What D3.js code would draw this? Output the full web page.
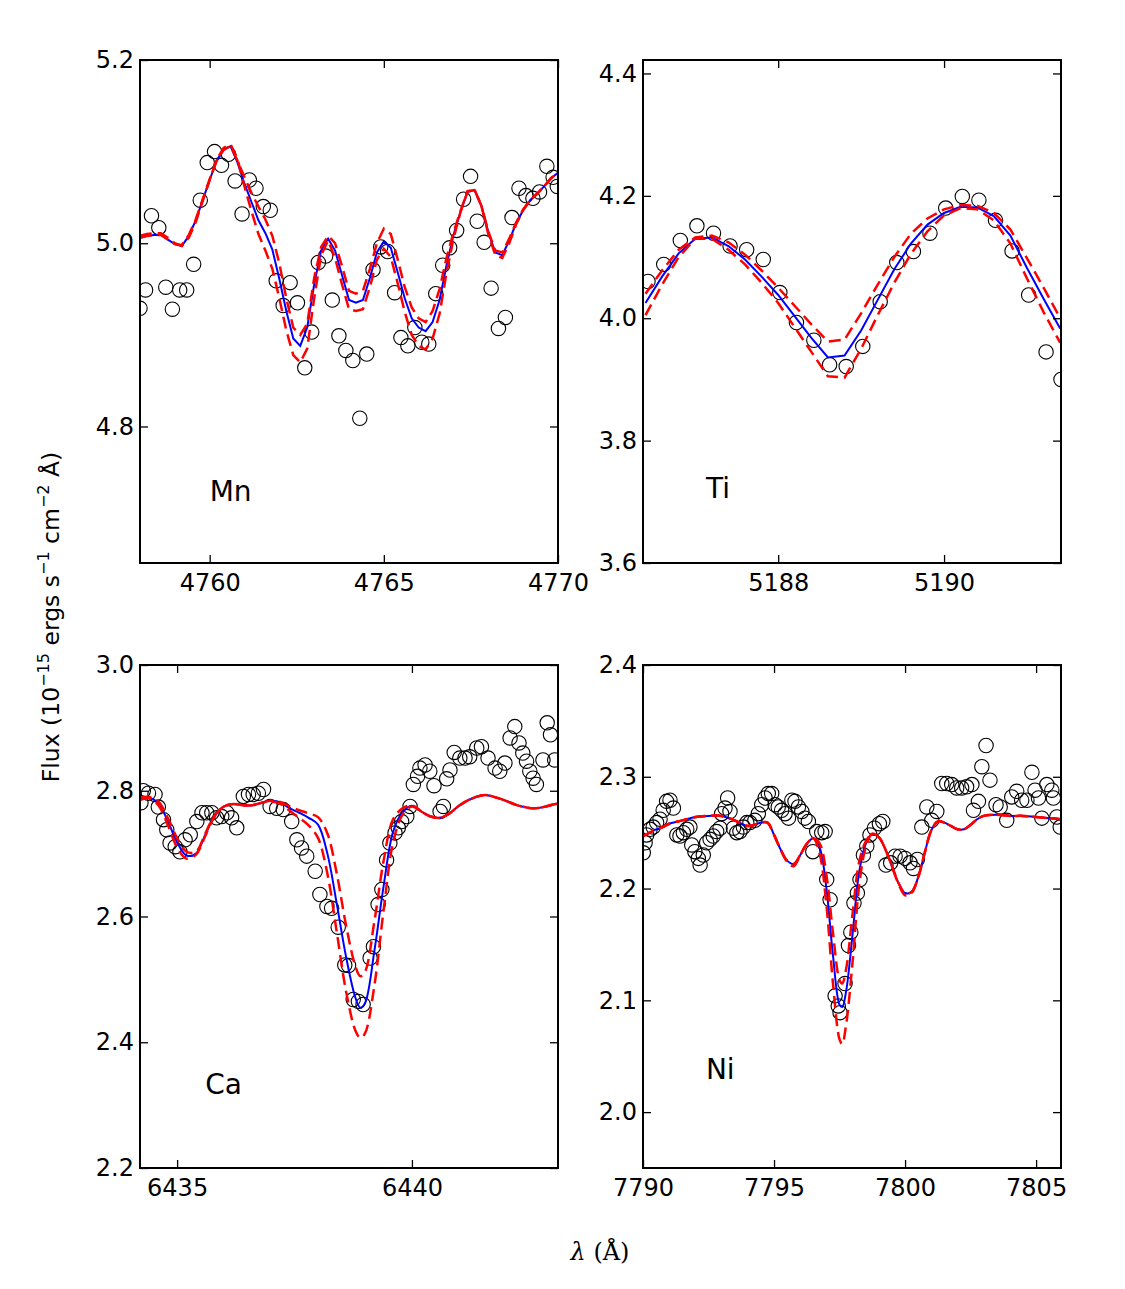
<!DOCTYPE html>
<html>
<head>
<meta charset="utf-8">
<script src="https://cdn.jsdelivr.net/npm/d3@7"></script>
<style>
  body { margin: 0; background: #fff; }
  text { font-family: "DejaVu Sans", sans-serif; }
</style>
</head>
<body>
<svg id="chart" width="1125" height="1289"></svg>
<script>
// ---- Mn 4758-4770 ----
const mnObsX = [4758.00,4758.16,4758.33,4758.54,4758.74,4758.93,4759.14,4759.34,4759.54,4759.73,4759.93,4760.14,4760.34,4760.54,4760.73,4760.93,4761.14,4761.33,4761.54,4761.74,4761.91,4762.11,4762.31,4762.52,4762.73,4762.93,4763.12,4763.33,4763.52,4763.71,4763.91,4764.11,4764.31,4764.51,4764.69,4764.91,4765.11,4765.31,4765.49,4765.69,4765.89,4766.09,4766.29,4766.49,4766.69,4766.89,4767.09,4767.29,4767.49,4767.68,4767.88,4768.08,4768.29,4768.49,4768.68,4768.88,4769.08,4769.28,4769.47,4769.68,4769.86,4769.98];
const mnObsY = [4.929,4.949,5.030,5.017,4.952,4.928,4.949,4.949,4.977,5.047,5.088,5.100,5.085,5.097,5.068,5.032,5.069,5.060,5.040,5.036,4.959,4.932,4.957,4.935,4.864,4.903,4.979,4.986,4.938,4.899,4.883,4.872,4.809,4.879,4.971,4.996,4.991,4.946,4.897,4.888,4.908,4.892,4.890,4.945,4.976,4.995,5.014,5.048,5.073,5.024,5.001,4.951,4.907,4.919,5.028,5.060,5.052,5.049,5.056,5.084,5.072,5.062];
const mnModX = [4758.0,4758.2,4758.4,4758.6,4758.8,4759.0,4759.2,4759.4,4759.6,4759.8,4760.0,4760.2,4760.4,4760.6,4760.8,4761.0,4761.2,4761.4,4761.6,4761.8,4762.0,4762.2,4762.4,4762.6,4762.8,4763.0,4763.2,4763.4,4763.6,4763.8,4764.0,4764.2,4764.4,4764.6,4764.8,4765.0,4765.2,4765.4,4765.6,4765.8,4766.0,4766.2,4766.4,4766.6,4766.8,4767.0,4767.2,4767.4,4767.6,4767.8,4768.0,4768.2,4768.4,4768.6,4768.8,4769.0,4769.2,4769.4,4769.6,4769.8,4770.0];
const mnBlue = [5.006,5.008,5.009,5.009,5.004,4.999,4.997,5.008,5.025,5.047,5.069,5.090,5.102,5.106,5.088,5.065,5.045,5.025,5.011,4.993,4.961,4.926,4.896,4.888,4.908,4.955,4.992,5.005,4.992,4.965,4.938,4.935,4.938,4.962,4.990,5.002,4.995,4.968,4.940,4.918,4.908,4.904,4.914,4.938,4.976,5.009,5.034,5.056,5.058,5.041,5.012,4.990,4.987,5.003,5.022,5.036,5.047,5.054,5.062,5.071,5.077];
const mnRedHi = [5.008,5.010,5.011,5.011,5.006,5.000,4.997,5.006,5.023,5.046,5.069,5.091,5.104,5.108,5.092,5.062,5.035,5.010,4.992,4.972,4.940,4.905,4.878,4.870,4.885,4.940,4.987,5.003,4.984,4.955,4.928,4.926,4.928,4.952,4.982,4.994,4.985,4.956,4.925,4.900,4.888,4.884,4.896,4.923,4.968,5.005,5.034,5.056,5.059,5.041,5.010,4.987,4.984,5.000,5.021,5.036,5.047,5.054,5.062,5.071,5.077];
const mnRedLo = [5.006,5.008,5.009,5.009,5.004,4.999,4.998,5.009,5.026,5.048,5.070,5.090,5.102,5.106,5.090,5.072,5.055,5.040,5.026,5.008,4.978,4.940,4.908,4.900,4.912,4.962,4.996,5.008,5.000,4.975,4.948,4.945,4.948,4.972,5.000,5.016,5.010,4.982,4.952,4.930,4.918,4.914,4.926,4.950,4.984,5.012,5.035,5.057,5.058,5.041,5.013,4.992,4.990,5.005,5.023,5.037,5.047,5.054,5.062,5.071,5.077];

// ---- Ti 5186.4-5191.4 ----
const tiObsX = [5186.43,5186.62,5186.82,5187.02,5187.22,5187.42,5187.62,5187.82,5188.02,5188.22,5188.43,5188.62,5188.82,5189.02,5189.23,5189.43,5189.63,5189.83,5190.02,5190.22,5190.42,5190.62,5190.82,5191.02,5191.23,5191.41];
const tiObsY = [4.060,4.088,4.127,4.151,4.139,4.118,4.112,4.096,4.042,3.993,3.964,3.924,3.921,3.954,4.027,4.091,4.109,4.139,4.180,4.199,4.193,4.160,4.110,4.038,3.945,3.900];
const tiModX = [5186.4,5186.6,5186.8,5187.0,5187.2,5187.4,5187.6,5187.8,5188.0,5188.2,5188.4,5188.6,5188.8,5189.0,5189.2,5189.4,5189.6,5189.8,5190.0,5190.2,5190.4,5190.6,5190.8,5191.0,5191.2,5191.4];
const tiBlue = [4.025,4.068,4.106,4.130,4.132,4.118,4.096,4.068,4.038,4.003,3.968,3.936,3.939,3.980,4.030,4.080,4.122,4.153,4.172,4.182,4.181,4.167,4.135,4.082,4.032,3.983];
const tiRedHi = [4.005,4.055,4.100,4.130,4.130,4.112,4.088,4.058,4.025,3.985,3.945,3.905,3.903,3.950,4.005,4.058,4.105,4.142,4.168,4.180,4.178,4.160,4.122,4.065,4.010,3.960];
const tiRedLo = [4.040,4.078,4.112,4.132,4.135,4.124,4.104,4.078,4.050,4.020,3.990,3.962,3.965,4.008,4.055,4.100,4.138,4.163,4.178,4.185,4.184,4.172,4.145,4.098,4.050,4.000];

// ---- Ca 6434.2-6443.1 ----
const caObsX = [6434.23,6434.28,6434.39,6434.53,6434.60,6434.71,6434.78,6434.85,6434.96,6435.06,6435.17,6435.28,6435.42,6435.53,6435.63,6435.74,6435.84,6435.95,6436.06,6436.16,6436.27,6436.41,6436.52,6436.62,6436.73,6436.84,6436.98,6437.12,6437.26,6437.44,6437.55,6437.65,6437.76,6437.94,6438.04,6438.19,6438.29,6438.43,6438.57,6438.65,6438.75,6438.86,6438.96,6439.11,6439.18,6439.28,6439.36,6439.46,6439.53,6439.64,6439.71,6439.78,6439.89,6439.96,6440.03,6440.12,6440.17,6440.28,6440.38,6440.47,6440.60,6440.67,6440.74,6440.81,6440.90,6441.02,6441.13,6441.23,6441.38,6441.48,6441.62,6441.77,6441.87,6441.98,6442.09,6442.19,6442.28,6442.36,6442.44,6442.51,6442.58,6442.65,6442.79,6442.88,6442.95,6443.04];
const caObsY = [2.781,2.800,2.796,2.794,2.774,2.754,2.738,2.717,2.711,2.703,2.722,2.730,2.751,2.765,2.765,2.765,2.757,2.759,2.765,2.757,2.741,2.791,2.794,2.794,2.796,2.802,2.775,2.772,2.770,2.751,2.722,2.709,2.696,2.672,2.635,2.616,2.613,2.583,2.523,2.522,2.468,2.465,2.460,2.534,2.552,2.619,2.643,2.690,2.717,2.733,2.741,2.751,2.759,2.775,2.810,2.823,2.836,2.841,2.831,2.808,2.767,2.775,2.819,2.833,2.861,2.852,2.852,2.854,2.868,2.870,2.852,2.836,2.831,2.844,2.884,2.902,2.876,2.860,2.847,2.831,2.820,2.810,2.849,2.908,2.889,2.849];
const caModX = [6434.2,6434.4,6434.6,6434.8,6435.0,6435.2,6435.4,6435.6,6435.8,6436.0,6436.2,6436.4,6436.6,6436.8,6437.0,6437.2,6437.4,6437.6,6437.8,6438.0,6438.2,6438.4,6438.6,6438.8,6438.9,6439.0,6439.2,6439.4,6439.6,6439.8,6440.0,6440.2,6440.4,6440.6,6440.8,6441.0,6441.2,6441.4,6441.6,6441.8,6442.0,6442.2,6442.4,6442.6,6442.8,6443.0,6443.2];
const caBlue = [2.787,2.789,2.780,2.752,2.718,2.697,2.700,2.730,2.760,2.775,2.779,2.777,2.777,2.781,2.784,2.781,2.772,2.765,2.757,2.746,2.700,2.620,2.535,2.470,2.455,2.462,2.545,2.650,2.735,2.766,2.776,2.767,2.759,2.757,2.764,2.776,2.785,2.791,2.793,2.789,2.784,2.778,2.774,2.772,2.774,2.778,2.781];
const caRedHi = [2.785,2.788,2.777,2.746,2.710,2.692,2.698,2.728,2.759,2.775,2.779,2.777,2.777,2.781,2.783,2.779,2.768,2.757,2.745,2.725,2.668,2.575,2.480,2.418,2.407,2.414,2.490,2.612,2.718,2.762,2.775,2.767,2.759,2.757,2.764,2.776,2.785,2.791,2.793,2.789,2.784,2.778,2.774,2.772,2.774,2.778,2.781];
const caRedLo = [2.789,2.790,2.783,2.757,2.725,2.703,2.703,2.732,2.761,2.775,2.779,2.777,2.777,2.781,2.784,2.782,2.775,2.769,2.764,2.758,2.732,2.668,2.585,2.520,2.505,2.512,2.592,2.690,2.755,2.772,2.777,2.767,2.759,2.757,2.764,2.776,2.785,2.791,2.793,2.789,2.784,2.778,2.774,2.772,2.774,2.778,2.781];

// ---- Ni 7790-7806 ----
const niObsX = [7790.01,7790.08,7790.14,7790.27,7790.39,7790.52,7790.65,7790.77,7790.90,7791.03,7791.16,7791.29,7791.41,7791.54,7791.67,7791.79,7791.86,7791.98,7792.11,7792.18,7792.30,7792.43,7792.56,7792.68,7792.81,7792.94,7793.00,7793.13,7793.23,7793.32,7793.45,7793.58,7793.70,7793.83,7793.96,7794.08,7794.27,7794.40,7794.53,7794.66,7794.78,7794.91,7795.04,7795.16,7795.29,7795.42,7795.55,7795.68,7795.80,7795.93,7796.06,7796.18,7796.31,7796.48,7796.63,7796.82,7796.95,7797.01,7797.14,7797.33,7797.45,7797.52,7797.71,7797.84,7797.93,7798.05,7798.18,7798.28,7798.41,7798.54,7798.66,7798.83,7799.02,7799.15,7799.27,7799.45,7799.62,7799.81,7800.00,7800.19,7800.32,7800.47,7800.64,7800.83,7801.02,7801.21,7801.40,7801.59,7801.78,7801.97,7802.16,7802.35,7802.55,7802.61,7802.80,7802.93,7803.09,7803.24,7803.47,7803.63,7803.88,7804.07,7804.26,7804.45,7804.65,7804.84,7804.96,7805.09,7805.22,7805.41,7805.60,7805.66,7805.79,7805.92];
const niObsY = [2.232,2.241,2.248,2.253,2.255,2.259,2.262,2.270,2.278,2.279,2.272,2.248,2.247,2.250,2.253,2.255,2.239,2.233,2.227,2.221,2.230,2.241,2.244,2.247,2.251,2.254,2.267,2.272,2.281,2.269,2.254,2.250,2.251,2.255,2.259,2.259,2.261,2.267,2.275,2.281,2.285,2.285,2.275,2.273,2.270,2.267,2.263,2.279,2.278,2.273,2.269,2.263,2.260,2.233,2.251,2.250,2.251,2.208,2.190,2.104,2.095,2.089,2.115,2.149,2.161,2.187,2.196,2.208,2.230,2.238,2.248,2.254,2.258,2.260,2.221,2.223,2.229,2.229,2.227,2.223,2.218,2.226,2.255,2.273,2.261,2.269,2.294,2.294,2.293,2.290,2.290,2.291,2.293,2.270,2.278,2.309,2.328,2.297,2.275,2.273,2.261,2.282,2.287,2.279,2.279,2.304,2.288,2.281,2.263,2.293,2.288,2.281,2.264,2.255];
const niModX = [7790.0,7790.25,7790.5,7790.75,7791.0,7791.5,7792.0,7792.5,7793.0,7793.5,7794.0,7794.25,7794.5,7794.75,7795.0,7795.25,7795.5,7795.75,7796.0,7796.25,7796.5,7796.75,7797.0,7797.25,7797.5,7797.6,7797.75,7798.0,7798.25,7798.5,7798.75,7799.0,7799.25,7799.5,7799.75,7800.0,7800.25,7800.5,7800.75,7801.0,7801.25,7801.5,7801.75,7802.0,7802.25,7802.5,7802.75,7803.0,7803.5,7804.0,7804.5,7805.0,7805.5,7806.0];
const niBlue = [2.247,2.250,2.253,2.255,2.258,2.261,2.264,2.265,2.265,2.261,2.256,2.257,2.259,2.259,2.248,2.235,2.225,2.222,2.230,2.240,2.245,2.236,2.200,2.140,2.096,2.094,2.108,2.160,2.215,2.240,2.249,2.246,2.235,2.220,2.205,2.196,2.197,2.210,2.232,2.252,2.260,2.259,2.256,2.253,2.253,2.257,2.262,2.265,2.266,2.265,2.265,2.264,2.263,2.262];
const niRedHi = [2.247,2.250,2.253,2.255,2.258,2.261,2.264,2.265,2.265,2.261,2.256,2.257,2.259,2.259,2.248,2.235,2.224,2.220,2.230,2.240,2.245,2.230,2.185,2.115,2.065,2.061,2.078,2.135,2.203,2.237,2.249,2.246,2.235,2.220,2.204,2.194,2.196,2.210,2.232,2.252,2.260,2.259,2.256,2.253,2.253,2.257,2.262,2.265,2.266,2.265,2.265,2.264,2.263,2.262];
const niRedLo = [2.247,2.250,2.253,2.255,2.258,2.261,2.264,2.265,2.265,2.261,2.256,2.257,2.259,2.259,2.248,2.235,2.225,2.222,2.230,2.240,2.245,2.240,2.212,2.160,2.118,2.115,2.128,2.178,2.224,2.242,2.249,2.246,2.235,2.220,2.205,2.196,2.197,2.210,2.232,2.252,2.260,2.259,2.256,2.253,2.253,2.257,2.262,2.265,2.266,2.265,2.265,2.264,2.263,2.262];

// tick values
const mnXTicks = [4760, 4765, 4770], mnYTicks = [4.8, 5.0, 5.2];
const tiXTicks = [5188, 5190], tiYTicks = [3.6, 3.8, 4.0, 4.2, 4.4];
const caXTicks = [6435, 6440], caYTicks = [2.2, 2.4, 2.6, 2.8, 3.0];
const niXTicks = [7790, 7795, 7800, 7805], niYTicks = [2.0, 2.1, 2.2, 2.3, 2.4];

const svg = d3.select("#chart");
svg.append("rect").attr("width", 1125).attr("height", 1289).attr("fill", "#fff");

const panels = [
  { name: "Mn", left: 140, top: 60, xd: [4758, 4770], yd: [4.651, 5.2],
    ox: mnObsX, oy: mnObsY, mx: mnModX, blue: mnBlue, hi: mnRedHi, lo: mnRedLo,
    xt: mnXTicks, yt: mnYTicks, lab: [4760.0, 4.719], curve: d3.curveLinear },
  { name: "Ti", left: 643, top: 60, xd: [5186.37, 5191.41], yd: [3.6, 4.422],
    ox: tiObsX, oy: tiObsY, mx: tiModX, blue: tiBlue, hi: tiRedHi, lo: tiRedLo,
    xt: tiXTicks, yt: tiYTicks, lab: [5187.13, 3.707], curve: d3.curveLinear },
  { name: "Ca", left: 140, top: 665, xd: [6434.21, 6443.11], yd: [2.2, 3.0],
    ox: caObsX, oy: caObsY, mx: caModX, blue: caBlue, hi: caRedHi, lo: caRedLo,
    xt: caXTicks, yt: caYTicks, lab: [6435.6, 2.318], curve: d3.curveCatmullRom },
  { name: "Ni", left: 643, top: 665, xd: [7790, 7805.95], yd: [1.95, 2.4],
    ox: niObsX, oy: niObsY, mx: niModX, blue: niBlue, hi: niRedHi, lo: niRedLo,
    xt: niXTicks, yt: niYTicks, lab: [7792.4, 2.030], curve: d3.curveCatmullRom }
];

const pw = 418, ph = 503;

panels.forEach((p, i) => {
  const x = d3.scaleLinear().domain(p.xd).range([0, pw]);
  const y = d3.scaleLinear().domain(p.yd).range([ph, 0]);
  const g = svg.append("g").attr("transform", `translate(${p.left},${p.top})`);

  g.append("clipPath").attr("id", "clip" + i)
    .append("rect").attr("width", pw).attr("height", ph);
  const plot = g.append("g").attr("clip-path", `url(#clip${i})`);

  // observed points
  plot.selectAll("circle")
    .data(d3.zip(p.ox, p.oy))
    .join("circle")
    .attr("cx", d => x(d[0]))
    .attr("cy", d => y(d[1]))
    .attr("r", 7.2)
    .attr("fill", "none")
    .attr("stroke", "#000")
    .attr("stroke-width", 1.1);

  const line = d3.line().x(d => x(d[0])).y(d => y(d[1])).curve(p.curve);

  plot.append("path").datum(d3.zip(p.mx, p.blue))
    .attr("d", line).attr("fill", "none")
    .attr("stroke", "#0000ff").attr("stroke-width", 2);

  [p.hi, p.lo].forEach(arr => {
    plot.append("path").datum(d3.zip(p.mx, arr))
      .attr("d", line).attr("fill", "none")
      .attr("stroke", "#ff0000").attr("stroke-width", 2.5)
      .attr("stroke-dasharray", "12,6");
  });

  // axes, ticks inward on all sides
  const fmtY = d3.format(".1f");
  const xb = g.append("g").attr("transform", `translate(0,${ph})`)
    .call(d3.axisBottom(x).tickValues(p.xt).tickSize(-8).tickSizeOuter(0).tickPadding(11).tickFormat(d3.format("d")));
  const xtp = g.append("g")
    .call(d3.axisTop(x).tickValues(p.xt).tickSize(-8).tickSizeOuter(0).tickFormat(""));
  const yl = g.append("g")
    .call(d3.axisLeft(y).tickValues(p.yt).tickSize(-8).tickSizeOuter(0).tickPadding(6).tickFormat(fmtY));
  const yr = g.append("g").attr("transform", `translate(${pw},0)`)
    .call(d3.axisRight(y).tickValues(p.yt).tickSize(-8).tickSizeOuter(0).tickFormat(""));
  [xb, xtp, yl, yr].forEach(a => {
    a.select(".domain").remove();
    a.selectAll(".tick line").attr("stroke", "#000").attr("stroke-width", 1.3);
    a.selectAll(".tick text").attr("font-size", 24).attr("fill", "#000")
      .attr("font-family", "DejaVu Sans");
  });

  g.append("rect").attr("width", pw).attr("height", ph)
    .attr("fill", "none").attr("stroke", "#000").attr("stroke-width", 2);

  g.append("text")
    .attr("x", x(p.lab[0])).attr("y", y(p.lab[1]))
    .attr("font-size", 28).attr("fill", "#000")
    .text(p.name);
});

// axis titles
const yt = svg.append("text")
  .attr("transform", "translate(59,617) rotate(-90)")
  .attr("text-anchor", "middle")
  .attr("font-size", 23.5)
  .attr("fill", "#000");
yt.append("tspan").text("Flux (10");
yt.append("tspan").attr("font-size", 16).attr("dy", -10).text("\u221215");
yt.append("tspan").attr("dy", 10).text(" ergs s");
yt.append("tspan").attr("font-size", 16).attr("dy", -10).text("\u22121");
yt.append("tspan").attr("dy", 10).text("  cm");
yt.append("tspan").attr("font-size", 16).attr("dy", -10).text("\u22122");
yt.append("tspan").attr("dy", 10).text("  \u00C5)");

const xt = svg.append("text")
  .attr("x", 600).attr("y", 1260)
  .attr("text-anchor", "middle")
  .attr("font-size", 24)
  .attr("font-family", "DejaVu Serif")
  .attr("fill", "#000");
xt.append("tspan").attr("font-style", "italic").attr("font-family", "DejaVu Serif").text("\u03BB");
xt.append("tspan").attr("font-family", "DejaVu Serif").text(" (\u00C5)");
</script>
</body>
</html>
